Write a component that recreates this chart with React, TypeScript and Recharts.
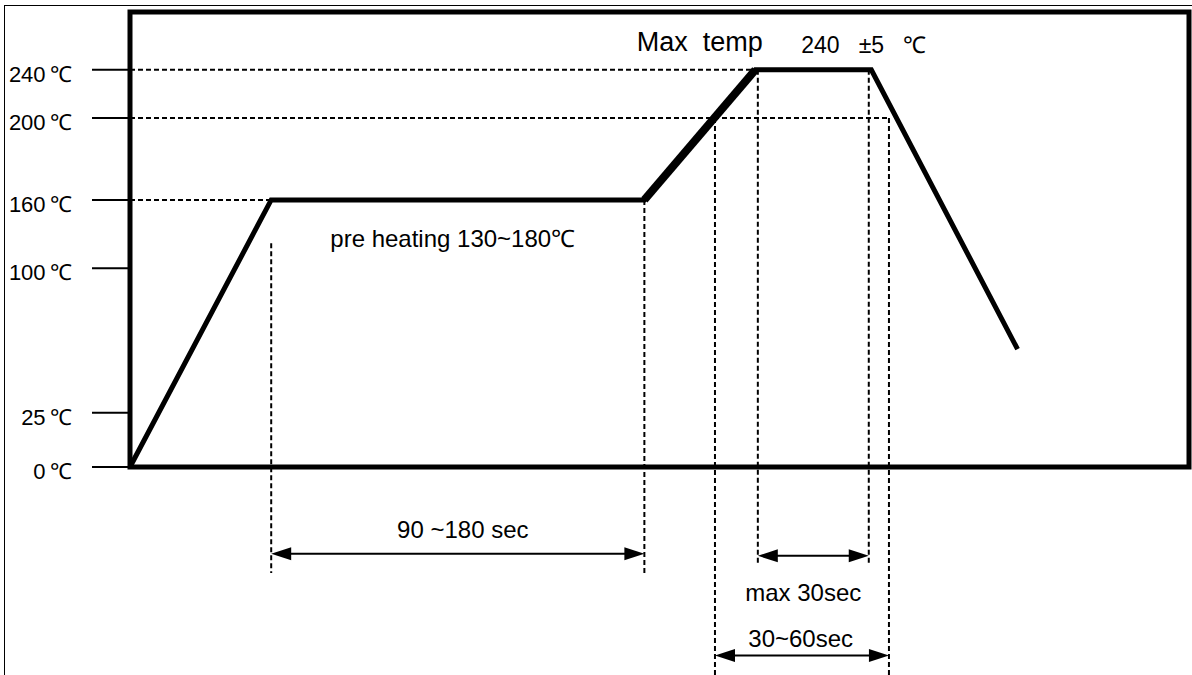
import {
  ComposedChart,
  Line,
  XAxis,
  YAxis,
  ReferenceLine,
  ReferenceArea,
  ReferenceDot,
} from "recharts"

// reflow profile: time in sec, temperature in ℃
const times = [0, 56, 204, 248, 294, 352]
const temps = [0, 160, 160, 240, 240, 58]
const tempTicks = [0, 25, 100, 160, 200, 240]

// dashed guides
const levelGuides = [
  { temp: 240, until: 280 },
  { temp: 200, until: 301 },
  { temp: 160, until: 56 },
]
const timeGuides = [
  { t: 56, from: 122, to: -49 },
  { t: 204, from: 160, to: -49 },
  { t: 232, from: 200, to: -100 },
  { t: 249, from: 240, to: -45 },
  { t: 293, from: 240, to: -45 },
  { t: 301, from: 200, to: -100 },
]
// double arrows under the axis
const spans = [
  { from: 56, to: 204, at: -40 },
  { from: 249, to: 293, at: -41 },
  { from: 232, to: 301, at: -87 },
]
const notes = [
  { text: "Max\u00a0\u00a0temp", t: 226, temp: 254.5, size: 27 },
  { text: "240\u00a0\u00a0\u00a0±5\u00a0\u00a0\u00a0℃", t: 291, temp: 253, size: 23 },
  { text: "pre heating 130~180℃", t: 128, temp: 126.5, size: 24 },
  { text: "90 ~180 sec", t: 132, temp: -29, size: 24 },
  { text: "max 30sec", t: 267, temp: -58, size: 24 },
  { text: "30~60sec", t: 266, temp: -79, size: 24 },
]

const profile = times.map((t, i) => ({ t, temp: temps[i] }))
const ramp = profile.slice(2, 4)

// the drawing's temperature axis is not to scale, it bends at every tick
const axisTemps = [0, 25, 100, 160, 200, 240, 270]
const axisStops = [0, 0.119, 0.437, 0.587, 0.767, 0.873, 1]

function bentScale(): any {
  let domain: number[] = [0, 270]
  let range: number[] = [0, 1]
  const scale: any = (v: number) => {
    let i = 1
    while (i < axisTemps.length - 1 && v > axisTemps[i]) i++
    const k = (v - axisTemps[i - 1]) / (axisTemps[i] - axisTemps[i - 1])
    const f = axisStops[i - 1] + k * (axisStops[i] - axisStops[i - 1])
    return range[0] + f * (range[1] - range[0])
  }
  scale.domain = (d?: number[]) => {
    if (!d) return domain
    domain = d
    return scale
  }
  scale.range = (r?: number[]) => {
    if (!r) return range
    range = r
    return scale
  }
  scale.copy = () => bentScale().domain(domain).range(range)
  scale.ticks = () => tempTicks
  return scale
}

const tempScale = bentScale()

function DoubleArrow(props: any) {
  const { x1, y1, x2, y2 } = props
  const head = 20
  const half = 6.5
  return (
    <g>
      <line x1={x1 + 10} y1={y1} x2={x2 - 10} y2={y2} stroke="#000" strokeWidth={2} />
      <polygon points={`${x1},${y1} ${x1 + head},${y1 - half} ${x1 + head},${y1 + half}`} fill="#000" />
      <polygon points={`${x2},${y2} ${x2 - head},${y2 - half} ${x2 - head},${y2 + half}`} fill="#000" />
    </g>
  )
}

export default function App() {
  return (
    <div
      style={{
        position: "absolute",
        left: 0,
        top: 0,
        width: 1192,
        height: 675,
        overflow: "hidden",
        background: "#fff",
        fontFamily: "'Liberation Sans', Arial, sans-serif",
      }}
    >
      <div
        style={{
          position: "absolute",
          left: 4,
          top: 5,
          width: 1200,
          height: 700,
          borderLeft: "1.5px solid #000",
          borderTop: "1.5px solid #000",
        }}
      />
      <ComposedChart
        width={1192}
        height={675}
        margin={{ top: 12, right: 3, bottom: 208, left: 0 }}
      >
        <XAxis type="number" dataKey="t" domain={[0, 420]} hide />
        <YAxis
          type="number"
          dataKey="temp"
          domain={[0, 270]}
          scale={tempScale}
          ticks={tempTicks}
          interval={0}
          width={130}
          axisLine={false}
          tickSize={38}
          tickMargin={20}
          tickLine={{ stroke: "#000", strokeWidth: 2 }}
          tick={{ fill: "#000", fontSize: 22, dy: 4 }}
          tickFormatter={(v) => `${v}\u2009℃`}
        />

        {levelGuides.map((g) => (
          <ReferenceLine
            key={`h${g.temp}`}
            segment={[
              { x: 0, y: g.temp },
              { x: g.until, y: g.temp },
            ]}
            ifOverflow="visible"
            stroke="#000"
            strokeWidth={2}
            strokeDasharray="5 3"
          />
        ))}
        {timeGuides.map((g) => (
          <ReferenceLine
            key={`v${g.t}`}
            segment={[
              { x: g.t, y: g.from },
              { x: g.t, y: g.to },
            ]}
            ifOverflow="visible"
            stroke="#000"
            strokeWidth={2}
            strokeDasharray="5 3"
          />
        ))}
        {spans.map((s) => (
          <ReferenceLine
            key={`a${s.from}`}
            segment={[
              { x: s.from, y: s.at },
              { x: s.to, y: s.at },
            ]}
            ifOverflow="visible"
            shape={DoubleArrow}
          />
        ))}

        <ReferenceArea
          x1={0}
          x2={420}
          y1={0}
          y2={270}
          ifOverflow="visible"
          fill="none"
          fillOpacity={0}
          stroke="#000"
          strokeWidth={5}
        />

        <Line
          data={profile}
          dataKey="temp"
          type="linear"
          stroke="#000"
          strokeWidth={5}
          dot={false}
          activeDot={false}
          isAnimationActive={false}
        />
        <Line
          data={ramp}
          dataKey="temp"
          type="linear"
          stroke="#000"
          strokeWidth={8}
          dot={false}
          activeDot={false}
          isAnimationActive={false}
        />

        {notes.map((n) => (
          <ReferenceDot
            key={n.text}
            x={n.t}
            y={n.temp}
            r={0}
            fill="none"
            stroke="none"
            ifOverflow="visible"
            label={{ value: n.text, position: "center", fill: "#000", fontSize: n.size }}
          />
        ))}
      </ComposedChart>
    </div>
  )
}
